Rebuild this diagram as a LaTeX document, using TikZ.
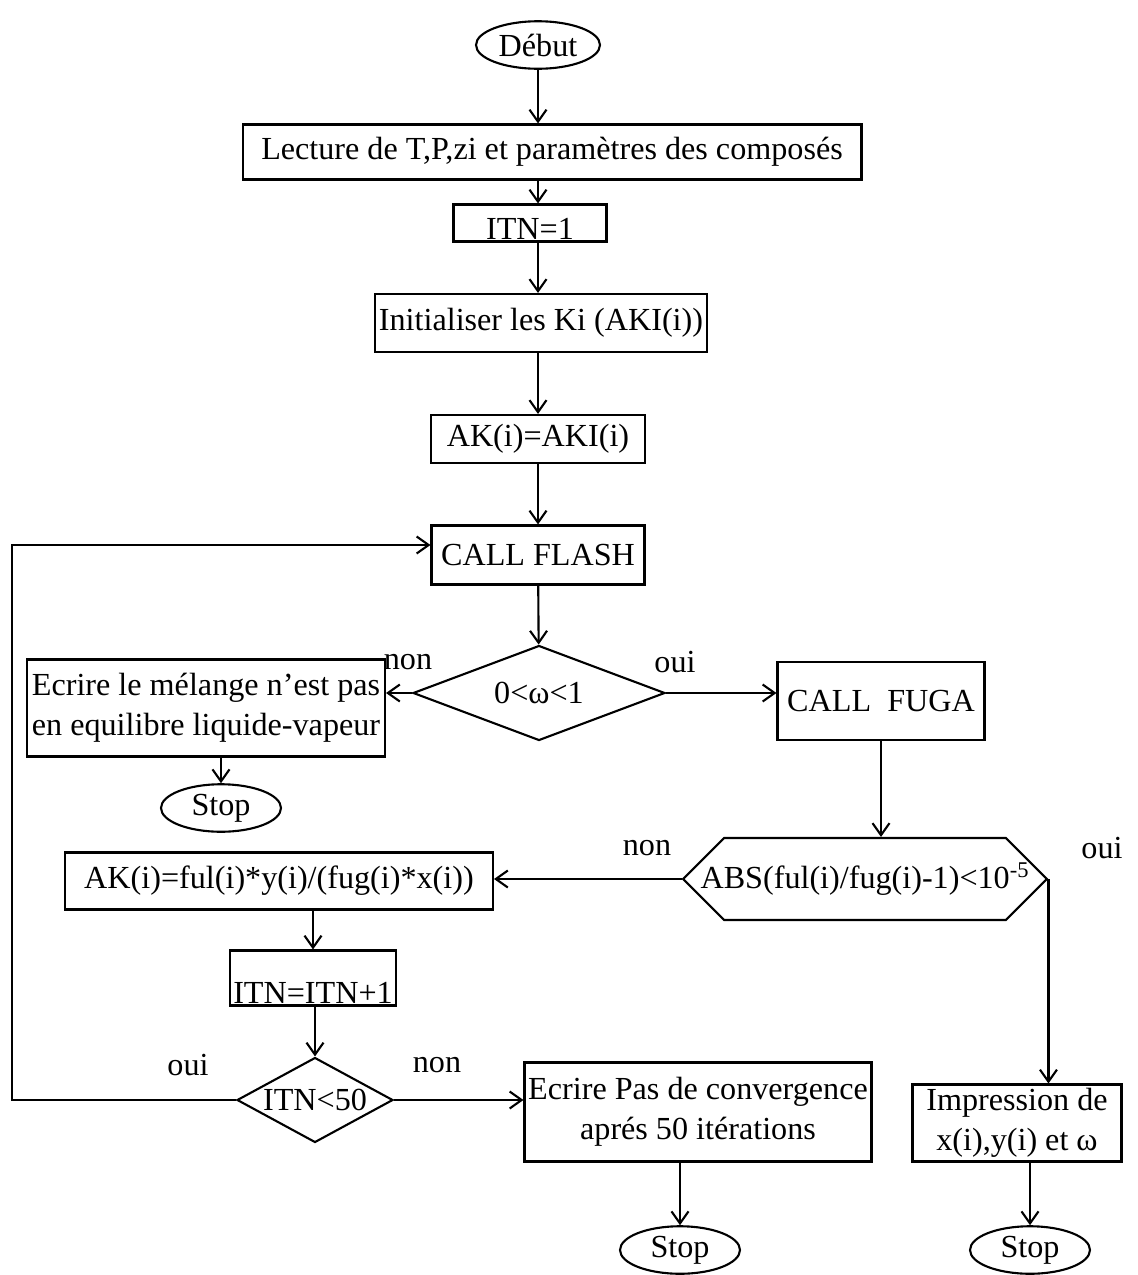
\documentclass[tikz,border=0pt]{standalone}
\usepackage{fontspec}
\setmainfont{Liberation Serif}
\usetikzlibrary{shapes.geometric,shapes.symbols,arrows.meta,positioning}
\begin{document}
\begin{tikzpicture}[
    x=0.02cm, y=-0.02cm,
    >={Straight Barb[length=2.4mm, width=3.4mm]},
    font=\fontsize{18.3}{23}\selectfont,
    io/.style={rectangle, draw, very thick, inner sep=2pt, align=center},
    term/.style={ellipse, draw, very thick, inner sep=0pt, minimum width=2.4cm, minimum height=0.95cm},
    test/.style={diamond, draw, very thick, inner sep=0pt},
    hexa/.style={signal, signal to=west and east, signal pointer angle=90, draw, very thick, inner sep=0pt},
    lbl/.style={inner sep=0pt}
]
    \useasboundingbox (0,0) rectangle (1137,1275);

    \node[term, minimum width=2.48cm] (debut) at (538,45) {Début};
    \node[io, minimum width=12.38cm, minimum height=1.1cm] (lect) at (552,152) {Lecture de T,P,zi et paramètres des composés};
    \node[io, minimum width=3.06cm, minimum height=0.74cm, text height=0.64cm, text depth=0pt, inner ysep=1pt] (itn1) at (530,223) {ITN=1};
    \node[io, minimum width=6.56cm, minimum height=1.16cm] (init) at (541,323) {Initialiser les Ki (AKI(i))};
    \node[io, minimum width=4.28cm, minimum height=0.96cm] (ak) at (538,439) {AK(i)=AKI(i)};
    \node[io, minimum width=4.26cm, minimum height=1.18cm] (flash) at (538,555) {CALL FLASH};
    \node[test, minimum width=5.04cm, minimum height=1.9cm] (omega) at (539,693) {\makebox[0pt]{0<ω<1}};
    \node[io, minimum width=7.16cm, minimum height=1.94cm] (melange) at (206,708) {Ecrire le mélange n’est pas\\en equilibre liquide-vapeur};
    \node[term] (stopa) at (221,808) {Stop};
    \node[io, minimum width=4.14cm, minimum height=1.56cm] (fuga) at (881,701) {CALL\ \ FUGA};
    \node[hexa, minimum width=7.28cm, minimum height=1.64cm] (abs) at (865,879) {\makebox[0pt]{ABS(ful(i)/fug(i)-1)<10\textsuperscript{-5}}};
    \node[io, minimum width=8.56cm, minimum height=1.14cm] (akful) at (279,881) {AK(i)=ful(i)*y(i)/(fug(i)*x(i))};
    \node[io, minimum width=2.96cm, minimum height=1.1cm, text height=1.0cm, text depth=0pt, inner ysep=1pt] (itn2) at (313,978) {ITN=ITN+1};
    \node[test, minimum width=3.12cm, minimum height=1.7cm] (iter) at (315,1100) {\makebox[0pt]{ITN<50}};
    \node[io, minimum width=6.94cm, minimum height=1.98cm] (conv) at (698,1112) {Ecrire Pas de convergence\\aprés 50 itérations};
    \node[term] (stopb) at (680,1250) {Stop};
    \node[io, minimum width=4.18cm, minimum height=1.54cm] (impr) at (1017,1123) {Impression de\\x(i),y(i) et ω};
    \node[term] (stopc) at (1030,1250) {Stop};

    \node[lbl] (non1) at (408,662) {non};
    \node[lbl] (oui1) at (675,662) {oui};
    \node[lbl] (non2) at (647,848) {non};
    \node[lbl] (oui2) at (1102,848) {oui};
    \node[lbl] (oui3) at (188,1065) {oui};
    \node[lbl] (non3) at (437,1065) {non};

    \coordinate (back) at (12,545);

    \draw[->, very thick] (debut) -- (debut |- lect.north);
    \draw[->, very thick] (debut |- lect.south) -- (debut |- itn1.north);
    \draw[->, very thick] (debut |- itn1.south) -- (debut |- init.north);
    \draw[->, very thick] (init.south -| ak) -- (ak.north);
    \draw[->, very thick] (ak) -- (flash);
    \draw[->, very thick] (flash) -- (omega);
    \draw[->, very thick] (omega.west) -- (omega.west -| melange.east);
    \draw[->, very thick] (omega.east) -- (omega.east -| fuga.west);
    \draw[->, very thick] (melange.south -| stopa) -- (stopa.north);
    \draw[->, very thick] (fuga) -- (fuga |- abs.north);
    \draw[->, very thick] (abs.west) -- (abs.west -| akful.east);
    \draw[->, very thick] (akful.south -| itn2) -- (itn2.north);
    \draw[->, very thick] (itn2.south -| iter) -- (iter.north);
    \draw[->, very thick] (iter.west) -| (back) -- (back -| flash.west);
    \draw[->, very thick] (iter.east) -- (iter.east -| conv.west);
    \draw[->, very thick] (conv.south -| stopb) -- (stopb.north);
    \draw[->, very thick] (abs.east) -- (abs.east |- impr.north);
    \draw[->, very thick] (impr.south -| stopc) -- (stopc.north);
\end{tikzpicture}
\end{document}
